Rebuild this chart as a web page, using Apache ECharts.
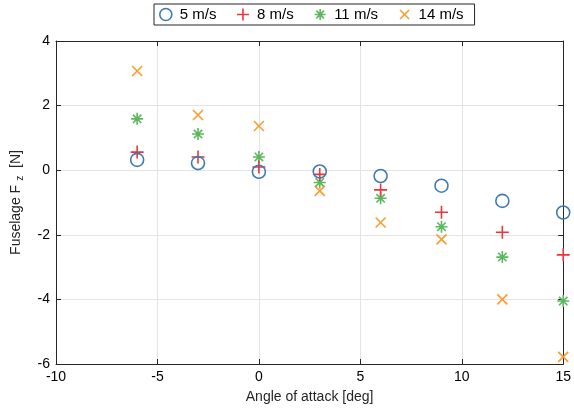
<!DOCTYPE html>
<html><head><meta charset="utf-8">
<script src="https://cdn.jsdelivr.net/npm/echarts@6/dist/echarts.min.js"></script>
<style>html,body{margin:0;padding:0;background:#fff}#c{width:574px;height:412px}</style>
</head><body><div id="c"></div>
<script>
const angles = [-6, -3, 0, 3, 6, 9, 12, 15];
const v5  = [0.32, 0.22, -0.05, -0.04, -0.18, -0.48, -0.95, -1.31];
const v8  = [0.56, 0.41, 0.10, -0.13, -0.61, -1.30, -1.92, -2.62];
const v11 = [1.59, 1.12, 0.41, -0.38, -0.87, -1.75, -2.69, -4.05];
const v14 = [3.07, 1.71, 1.37, -0.64, -1.62, -2.14, -4.00, -5.78];
const seriesNames = ['5 m/s', '8 m/s', '11 m/s', '14 m/s'];
const xTicks = [-10, -5, 0, 5, 10, 15];
const yTicks = [-6, -4, -2, 0, 2, 4];

const FONT = 'Liberation Sans';
const AX = '#262626';
const symbols = {
  circle: 'circle',
  plus: 'path://M0,-1L0,1M-1,0L1,0',
  star: 'path://M0,-1L0,1M-1,0L1,0M-0.7,-0.7L0.7,0.7M-0.7,0.7L0.7,-0.7',
  cross: 'path://M-1,-1L1,1M-1,1L1,-1'
};
const legendSymbols = [
  'circle',
  'path://M0,-1L0,1M-1,0L1,0',
  'path://M-1.1,-1.1M1.1,1.1M0,-1L0,1M-1,0L1,0M-0.7,-0.7L0.7,0.7M-0.7,0.7L0.7,-0.7',
  'path://M-1.33,-1.33M1.33,1.33M-1,-1L1,1M-1,1L1,-1'
];
const styles = [
  {sym: symbols.circle, size: 13, color: '#3f7bb3', fill: 'rgba(0,0,0,0)'},
  {sym: symbols.plus, size: 13, color: '#e8363a', fill: 'none'},
  {sym: symbols.star, size: 12, color: '#5cb85c', fill: 'none'},
  {sym: symbols.cross, size: 10, color: '#ff9a2e', fill: 'none'}
];
const values = [v5, v8, v11, v14];

const chart = echarts.init(document.getElementById('c'), null, {renderer: 'canvas'});
const series = values.map((vals, i) => ({
  name: seriesNames[i],
  type: 'scatter',
  xAxisIndex: 0, yAxisIndex: 0,
  data: angles.map((a, j) => [a, vals[j]]),
  symbol: styles[i].sym,
  symbolSize: styles[i].size,
  itemStyle: {color: styles[i].fill, borderColor: styles[i].color, borderWidth: 1.6, opacity: 1},
  emphasis: {disabled: true},
  z: 10 - i
}));

chart.setOption({
  animation: false,
  backgroundColor: '#fff',
  textStyle: {fontFamily: FONT},
  grid: {left: 56, right: 7, top: 41, bottom: 48, containLabel: false},
  legend: {
    data: seriesNames.map((n, i) => ({name: n, icon: legendSymbols[i],
      itemStyle: {color: styles[i].fill, borderColor: styles[i].color, borderWidth: 1.6}})),
    left: 154, top: 4,
    padding: [2, 11, 2, 5],
    borderColor: AX, borderWidth: 1,
    itemWidth: 14, itemHeight: 12, itemGap: 18,
    textStyle: {fontFamily: FONT, fontSize: 15, color: '#000', padding: [0, 0, 0, 2]}
  },
  xAxis: [{
    type: 'value', min: -10, max: 15, interval: 5,
    name: 'Angle of attack [deg]', nameLocation: 'middle', nameGap: 26,
    nameTextStyle: {fontFamily: FONT, fontSize: 14, color: AX},
    axisLine: {show: true, onZero: false, lineStyle: {color: AX, width: 1}},
    axisTick: {show: true, inside: true, length: 5, lineStyle: {color: AX}},
    axisLabel: {fontFamily: FONT, fontSize: 14, color: '#000', margin: 6,
      formatter: v => xTicks.includes(v) ? String(v) : ''},
    splitLine: {show: true, lineStyle: {color: '#e3e3e3', width: 1}}
  }, {
    type: 'value', position: 'top', min: -10, max: 15, interval: 5,
    axisLine: {show: true, onZero: false, lineStyle: {color: AX, width: 1}},
    axisTick: {show: true, inside: true, length: 5, lineStyle: {color: AX}},
    axisLabel: {show: false}, splitLine: {show: false}
  }],
  yAxis: [{
    type: 'value', min: -6, max: 4, interval: 2,
    name: '{n|Fuselage F}{s|z}{n| [N]}', nameLocation: 'middle', nameGap: 31, nameRotate: 90,
    nameTextStyle: {fontFamily: FONT, fontSize: 14, color: AX,
      rich: {n: {fontFamily: FONT, fontSize: 14, color: AX},
             s: {fontFamily: FONT, fontSize: 10, color: AX, verticalAlign: 'bottom', padding: [8, 4, 0, 4]}}},
    axisLine: {show: true, onZero: false, lineStyle: {color: AX, width: 1}},
    axisTick: {show: true, inside: true, length: 5, lineStyle: {color: AX}},
    axisLabel: {fontFamily: FONT, fontSize: 14, color: '#000', margin: 6,
      formatter: v => yTicks.includes(v) ? String(v) : ''},
    splitLine: {show: true, lineStyle: {color: '#e3e3e3', width: 1}}
  }, {
    type: 'value', position: 'right', min: -6, max: 4, interval: 2,
    axisLine: {show: true, onZero: false, lineStyle: {color: AX, width: 1}},
    axisTick: {show: true, inside: true, length: 5, lineStyle: {color: AX}},
    axisLabel: {show: false}, splitLine: {show: false}
  }],
  series: series
});
</script></body></html>
